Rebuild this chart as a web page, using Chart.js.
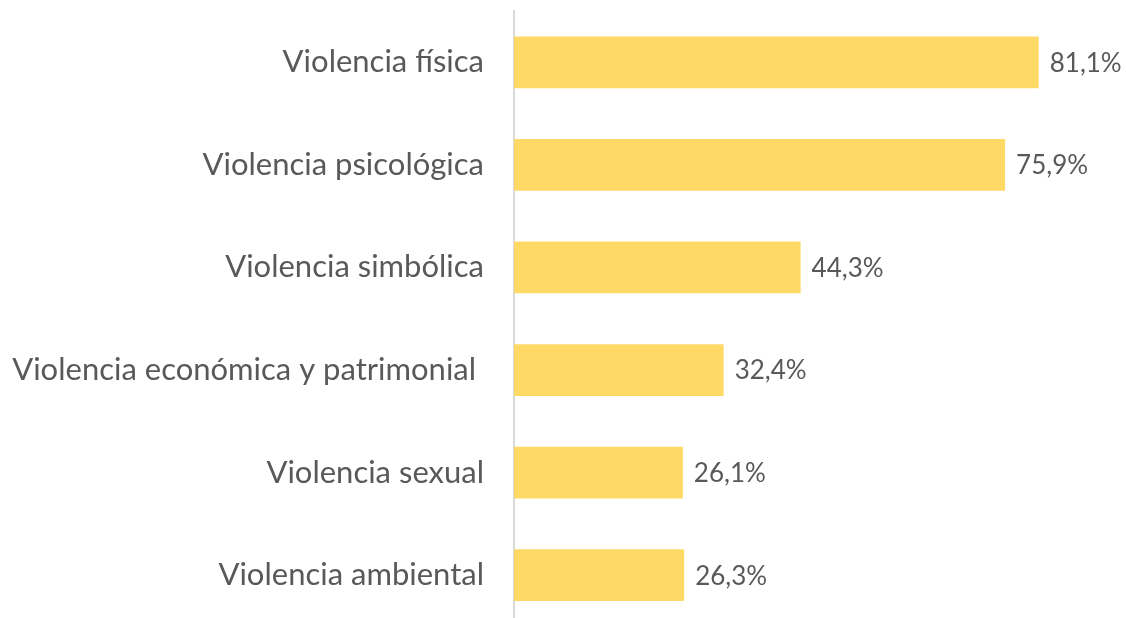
<!DOCTYPE html>
<html>
<head>
<meta charset="utf-8">
<script src="https://cdn.jsdelivr.net/npm/chart.js@4/dist/chart.umd.min.js"></script>
<style>
html,body{margin:0;padding:0;background:#fff;overflow:hidden;width:1126px;height:618px;}
#wrap{position:absolute;left:0;top:0;width:1126px;height:640px;}
</style>
</head>
<body>
<div id="wrap"><canvas id="c" width="1126" height="640"></canvas></div>
<script>
const categories = [
  "Violencia física",
  "Violencia psicológica",
  "Violencia simbólica",
  "Violencia económica y patrimonial ",
  "Violencia sexual",
  "Violencia ambiental"
];
const values = [81.1, 75.9, 44.3, 32.4, 26.1, 26.3];
const valueLabels = ["81,1%", "75,9%", "44,3%", "32,4%", "26,1%", "26,3%"];

const labelPlugin = {
  id: 'valueLabels',
  afterDatasetsDraw(chart) {
    const ctx = chart.ctx;
    const meta = chart.getDatasetMeta(0);
    ctx.save();
    ctx.font = '26px Lato';
    ctx.fillStyle = '#595959';
    ctx.textAlign = 'left';
    ctx.textBaseline = 'middle';
    meta.data.forEach((bar, i) => {
      ctx.fillText(valueLabels[i], bar.x + 11, bar.y + 1);
    });
    ctx.restore();
  }
};

new Chart(document.getElementById('c'), {
  type: 'bar',
  data: {
    labels: categories,
    datasets: [{
      data: values,
      backgroundColor: '#FFD966',
      borderWidth: 0,
      barPercentage: 0.505,
      categoryPercentage: 1.0
    }]
  },
  options: {
    indexAxis: 'y',
    responsive: false,
    animation: false,
    events: [],
    layout: { padding: { top: 11, bottom: 13.5, right: 29.7, left: 0 } },
    plugins: { legend: { display: false }, tooltip: { enabled: false } },
    scales: {
      x: { display: false, min: 0, max: 90 },
      y: {
        afterFit(scale) { scale.width = 514; scale.paddingTop = 0; scale.paddingBottom = 0; },
        grid: { display: false, tickLength: 0 },
        border: { display: true, color: '#d9d9d9', width: 2 },
        ticks: {
          color: '#595959',
          font: { family: 'Lato', size: 31 },
          padding: 30
        }
      }
    }
  },
  plugins: [labelPlugin]
});
</script>
</body>
</html>
